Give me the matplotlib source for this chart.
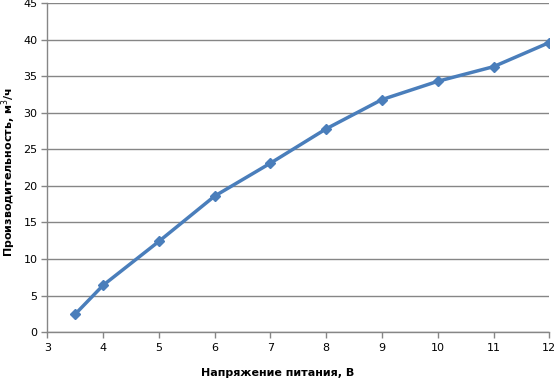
import matplotlib
matplotlib.use('Agg')
import matplotlib.pyplot as plt

# data
voltage = [3.5, 4, 5, 6, 7, 8, 9, 10, 11, 12]
flow = [2.45, 6.4, 12.4, 18.6, 23.1, 27.8, 31.8, 34.3, 36.3, 39.6]

x_ticks = [3, 4, 5, 6, 7, 8, 9, 10, 11, 12]
y_ticks = [0, 5, 10, 15, 20, 25, 30, 35, 40, 45]

grey = '#868686'

fig = plt.figure(figsize=(5.56, 3.80), dpi=100)
ax = fig.add_axes([0.085, 0.126, 0.903, 0.866])

ax.plot(voltage, flow, color='#4A7EBB', linewidth=2.5, marker='D',
        markersize=5.5, markerfacecolor='#4A7EBB', markeredgecolor='#4A7EBB',
        zorder=3)

ax.set_xlim(3, 12)
ax.set_ylim(0, 45)
ax.set_xticks(x_ticks)
ax.set_yticks(y_ticks)
ax.yaxis.grid(True, color=grey, linewidth=1)
ax.set_axisbelow(True)

for side in ['top', 'right']:
    ax.spines[side].set_visible(False)
for side in ['left', 'bottom']:
    ax.spines[side].set_color(grey)
    ax.spines[side].set_linewidth(1)

ax.tick_params(axis='both', colors=grey, labelcolor='black', labelsize=8,
               length=4, width=1, direction='out')
ax.tick_params(axis='x', pad=4)
ax.tick_params(axis='y', pad=3)

# axis titles placed as in the reference
fig.text(0.5, 1 - 373 / 380, 'Напряжение питания, В', fontsize=8, fontweight='bold',
         ha='center', va='center')
fig.text(9 / 556, 1 - 172 / 380, 'Производительность, м$^3$/ч', fontsize=8,
         fontweight='bold', ha='center', va='center', rotation=90)

fig.savefig('out.png', dpi=100)
